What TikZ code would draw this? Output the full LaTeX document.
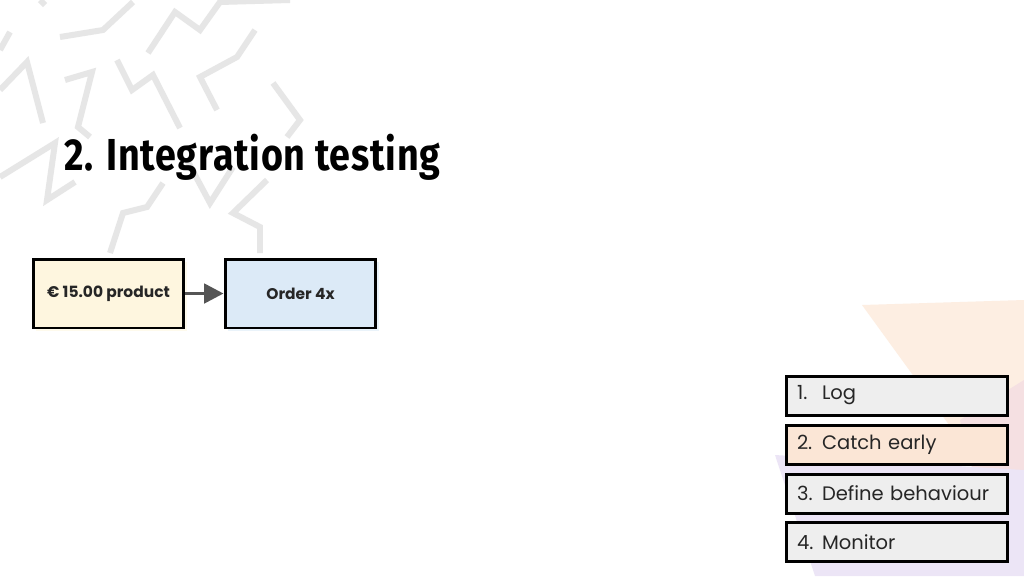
\documentclass[tikz,border=0pt]{standalone}
\usepackage{fontspec}
\setmainfont{Poppins}
\newfontfamily\titlefont[LetterSpace=2]{Fira Sans}
\usetikzlibrary{arrows.meta,positioning}
\definecolor{zig}{HTML}{E6E6E6}
\definecolor{cream}{HTML}{FEF6DF}
\definecolor{skyfill}{HTML}{DCEAF7}
\definecolor{greyfill}{HTML}{EEEEEE}
\definecolor{peachfill}{HTML}{FBE6D6}
\definecolor{peachbg}{HTML}{FDEEE2}
\definecolor{pinkbg}{HTML}{F5E0E2}
\definecolor{lavbg}{HTML}{ECE5F6}
\definecolor{arrowgrey}{HTML}{555555}
\tikzset{
  zigline/.style={draw=zig, line width=3.4pt},
  flowbox/.style={draw=black, line width=1.7pt, minimum width=3.02cm, minimum height=1.38cm,
    font=\fontsize{8.8}{10}\selectfont\bfseries, text=black!85},
  listbox/.style={draw=black, line width=1.7pt, minimum width=4.44cm, text width=4.0cm,
    minimum height=0.78cm, align=left, inner xsep=0.22cm, inner ysep=0pt,
    font=\fontsize{11.1}{12}\selectfont, text=black!85},
  flowarrow/.style={draw=arrowgrey, line width=2pt, -{Triangle[length=11pt,width=11pt]}},
}
\newcommand{\numtab}[1]{\makebox[0.5cm][l]{#1}}
\begin{document}
\begin{tikzpicture}[x=0.02cm,y=-0.02cm]
\useasboundingbox (0,0) rectangle (1024,576);
\fill[white] (0,0) rectangle (1024,576);
% pastel background shapes
\fill[peachbg] (862,305) -- (1024,300) -- (1024,470) -- (960,440) -- cycle;
\fill[pinkbg] (960,420) -- (1024,380) -- (1024,500) -- (975,480) -- cycle;
\fill[lavbg] (775,455) -- (1024,470) -- (1024,576) -- (815,576) -- cycle;
% grey zigzags
\draw[zigline] (60,37) -- (103,30) -- (133,2);
\draw[zigline] (148,53) -- (175,12) -- (200,30) -- (220,2) -- (290,0);
\draw[zigline] (255,30) -- (237,57) -- (200,77) -- (217,110);
\draw[zigline] (117,60) -- (132,90) -- (153,75) -- (180,128);
\draw[zigline] (10,32) -- (0,50);
\draw[zigline] (0,90) -- (27,62) -- (43,123);
\draw[zigline] (65,80) -- (92,72) -- (78,127) -- (90,137);
\draw[zigline] (273,83) -- (300,120) -- (287,137);
\draw[zigline] (0,177) -- (55,143) -- (47,200) -- (75,182);
\draw[zigline] (163,183) -- (147,207) -- (123,213) -- (110,253);
\draw[zigline] (187,160) -- (210,203) -- (233,167);
\draw[zigline] (267,180) -- (233,213) -- (260,227) -- (260,253);
\draw[zigline] (40,0) -- (45,5);
% title
\node[anchor=base west, inner sep=0pt] (title) at (64,170)
  {\resizebox{7.52cm}{\height}{\titlefont\fontsize{25.5}{28}\selectfont\bfseries 2. Integration testing}};
% flow boxes
\fill[cream!60] (36,262) rectangle (187,331);
\fill[skyfill!60] (228,262) rectangle (379,331);
\node[flowbox, fill=cream] (product) at (108.5,293.5) {€ 15.00 product};
\node[flowbox, fill=skyfill] (order) at (300.5,293.5) {Order 4x};
\draw[flowarrow] (product) -- (order);
% list boxes
\node[listbox, fill=greyfill] (log) at (897,395.5) {\numtab{1.}Log};
\node[listbox, fill=peachfill] (catch) at (897,444.5) {\numtab{2.}Catch early};
\node[listbox, fill=greyfill] (define) at (897,493.5) {\numtab{3.}Define behaviour};
\node[listbox, fill=greyfill] (monitor) at (897,542) {\numtab{4.}Monitor};
\end{tikzpicture}
\end{document}
